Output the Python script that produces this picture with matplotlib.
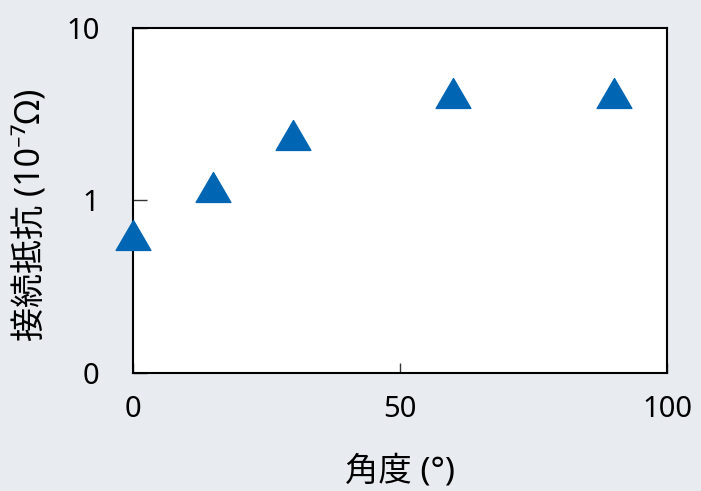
import numpy as np
import matplotlib.pyplot as plt
from matplotlib.path import Path

plt.rcParams['font.family'] = ['Noto Sans', 'Noto Sans CJK JP', 'DejaVu Sans']

# 角度と接続抵抗
angle = [0, 15, 30, 60, 90]
resistance = [0.63, 1.2, 2.4, 4.2, 4.2]
y_ticks = [0.1, 1, 10]
y_tick_labels = ['0', '1', '10']
x_ticks = [0, 50, 100]

bg = '#e8ecf1'
blue = '#0066b3'

# 少し平たい三角形マーカー
tri = Path([(0, 0.86), (-1, -0.86), (1, -0.86), (0, 0.86)],
           [Path.MOVETO, Path.LINETO, Path.LINETO, Path.CLOSEPOLY])

fig = plt.figure(figsize=(7.01, 4.91), dpi=100, facecolor=bg)
ax = fig.add_axes([133 / 701, 1 - 373 / 491, 534 / 701, 345 / 491])
ax.set_facecolor('white')

ax.plot(angle, resistance, linestyle='none', marker=tri, markersize=25,
        color=blue, clip_on=False, zorder=5)

ax.set_yscale('log')
ax.set_ylim(0.1, 10)
ax.set_xlim(0, 100)
ax.set_yticks(y_ticks)
ax.set_yticklabels(y_tick_labels)
ax.yaxis.set_minor_locator(plt.NullLocator())
ax.set_xticks(x_ticks)
ax.set_xticklabels([str(v) for v in x_ticks])

for s in ax.spines.values():
    s.set_linewidth(1.5)
ax.tick_params(axis='both', direction='in', width=1.0, color='#333333',
               labelsize=21)
ax.tick_params(axis='y', length=10, pad=24)
ax.tick_params(axis='x', length=7, pad=16)

ax.set_xlabel('角度 (°)', fontsize=24)
ax.xaxis.set_label_coords(0.5, -(472 - 373) / 345)
ax.xaxis.label.set_va('center')
ax.set_ylabel('接続抵抗 (10⁻⁷Ω)', fontsize=24.5)
ax.yaxis.set_label_coords(-(133 - 31) / 534, (373 - 215) / 345)
ax.yaxis.label.set_va('center')

fig.savefig('out.png', dpi=100, facecolor=bg)
